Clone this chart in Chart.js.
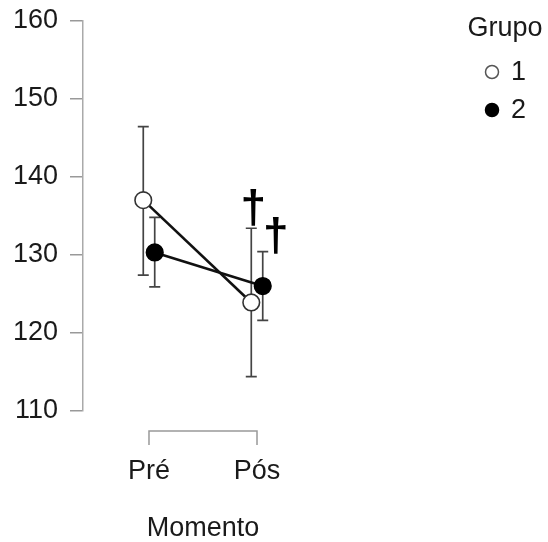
<!DOCTYPE html>
<html lang="pt">
<head>
<meta charset="UTF-8">
<title>Grupo x Momento</title>
<script src="https://cdn.jsdelivr.net/npm/chart.js@4"></script>
<style>
    body { margin: 0; background: #fff; }
    #wrap { width: 548px; height: 542px; }
</style>
</head>
<body>
<div id="wrap"><canvas id="myChart" width="548" height="542"></canvas></div>
<script>
    const momentos = ['Pré', 'Pós'];
    const grupos = ['1', '2'];
    const media1 = [137.0, 123.9];
    const inf1 = [127.4, 114.4];
    const sup1 = [146.4, 133.4];
    const media2 = [130.3, 126.0];
    const inf2 = [125.9, 121.6];
    const sup2 = [134.8, 130.4];
    const yTicks = [110, 120, 130, 140, 150, 160];
    // marcas de significancia: grupo e momento onde aparecem
    const marcas = [{grupo: 0, momento: 1, texto: '\u2020'}, {grupo: 1, momento: 1, texto: '\u2020'}];

    const FONT = '"Liberation Sans", Arial, sans-serif';
    const dodge = 0.053;
    const medias = [media1, media2];
    const infs = [inf1, inf2];
    const sups = [sup1, sup2];
    const cores = [{fill: '#fff', border: '#333'}, {fill: '#000', border: '#000'}];

    function pontos(g) {
        const d = g === 0 ? -dodge : dodge;
        return momentos.map((m, i) => ({x: i + d, y: medias[g][i]}));
    }

    const errorBars = {
        id: 'errorBars',
        beforeDatasetsDraw(chart) {
            const {ctx, scales: {x, y}} = chart;
            ctx.save();
            ctx.strokeStyle = '#444';
            ctx.lineWidth = 1.7;
            grupos.forEach((g, gi) => {
                pontos(gi).forEach((p, i) => {
                    const px = x.getPixelForValue(p.x);
                    const y1 = y.getPixelForValue(infs[gi][i]);
                    const y2 = y.getPixelForValue(sups[gi][i]);
                    ctx.beginPath();
                    ctx.moveTo(px, y1); ctx.lineTo(px, y2);
                    ctx.moveTo(px - 5.5, y1); ctx.lineTo(px + 5.5, y1);
                    ctx.moveTo(px - 5.5, y2); ctx.lineTo(px + 5.5, y2);
                    ctx.stroke();
                });
            });
            ctx.restore();
        },
        afterDatasetsDraw(chart) {
            const {ctx, scales: {x, y}} = chart;
            ctx.save();
            ctx.fillStyle = '#000';
            ctx.font = 'bold 46px ' + FONT;
            ctx.textAlign = 'center';
            ctx.textBaseline = 'alphabetic';
            const nudge = [[2, -5], [13, -1]];
            marcas.forEach((m, k) => {
                const p = pontos(m.grupo)[m.momento];
                const px = x.getPixelForValue(p.x) + nudge[k][0];
                const py = y.getPixelForValue(sups[m.grupo][m.momento]) + nudge[k][1];
                ctx.fillText(m.texto, px, py);
            });
            ctx.restore();
        },
        afterDraw(chart) {
            const {ctx, scales: {x}, chartArea} = chart;
            // eixo x em colchete
            const a = x.getPixelForValue(0), b = x.getPixelForValue(momentos.length - 1);
            const yb = chartArea.bottom + 20;
            ctx.save();
            ctx.strokeStyle = '#999';
            ctx.lineWidth = 1.5;
            ctx.beginPath();
            ctx.moveTo(a, yb + 14); ctx.lineTo(a, yb); ctx.lineTo(b, yb); ctx.lineTo(b, yb + 14);
            ctx.stroke();

            // legenda
            ctx.fillStyle = '#1a1a1a';
            ctx.font = '27px ' + FONT;
            ctx.textAlign = 'center';
            ctx.textBaseline = 'middle';
            ctx.fillText('Grupo', 505, 29);
            ctx.textAlign = 'left';
            grupos.forEach((g, gi) => {
                const ly = 72 + gi * 38;
                ctx.beginPath();
                ctx.arc(492, ly, 6.5, 0, Math.PI * 2);
                ctx.fillStyle = cores[gi].fill;
                ctx.fill();
                ctx.strokeStyle = gi === 0 ? '#555' : '#000';
                ctx.lineWidth = 1.5;
                ctx.stroke();
                ctx.fillStyle = '#1a1a1a';
                ctx.fillText(g, 511, ly + 1);
            });
            ctx.restore();
        }
    };

    const ctx = document.getElementById('myChart').getContext('2d');
    const myChart = new Chart(ctx, {
        type: 'line',
        data: {
            datasets: grupos.map((g, gi) => ({
                label: g,
                data: pontos(gi),
                borderColor: '#111',
                borderWidth: 2.6,
                pointRadius: 8.3,
                pointBorderWidth: 1.6,
                pointBackgroundColor: cores[gi].fill,
                pointBorderColor: cores[gi].border,
                tension: 0
            }))
        },
        options: {
            responsive: false,
            animation: false,
            layout: {padding: {top: 20.5, right: 225, left: 0, bottom: 0}},
            plugins: {legend: {display: false}, tooltip: {enabled: false}},
            scales: {
                x: {
                    type: 'linear',
                    min: -0.611,
                    max: momentos.length - 1 + 0.611,
                    afterBuildTicks: s => { s.ticks = momentos.map((m, i) => ({value: i})); },
                    afterFit: s => { s.height = 131; s.paddingLeft = 0; s.paddingRight = 0; },
                    border: {display: false},
                    grid: {display: false, drawTicks: false},
                    ticks: {
                        callback: v => momentos[v],
                        color: '#1a1a1a',
                        font: {family: FONT, size: 27},
                        padding: 44,
                        autoSkip: false,
                        maxRotation: 0
                    },
                    title: {
                        display: true,
                        text: 'Momento',
                        color: '#1a1a1a',
                        font: {family: FONT, size: 27, lineHeight: 1},
                        padding: {top: 0, bottom: 0}
                    }
                },
                y: {
                    min: yTicks[0],
                    max: yTicks[yTicks.length - 1],
                    afterBuildTicks: s => { s.ticks = yTicks.map(v => ({value: v})); },
                    afterFit: s => { s.width = 83; s.paddingTop = 0; s.paddingBottom = 0; },
                    border: {display: true, color: '#aaa', width: 1.5},
                    grid: {drawOnChartArea: false, color: '#999', lineWidth: 1.5, tickLength: 13},
                    ticks: {
                        color: '#1a1a1a',
                        font: {family: FONT, size: 27},
                        padding: 12
                    }
                }
            }
        },
        plugins: [errorBars]
    });
</script>
</body>
</html>
